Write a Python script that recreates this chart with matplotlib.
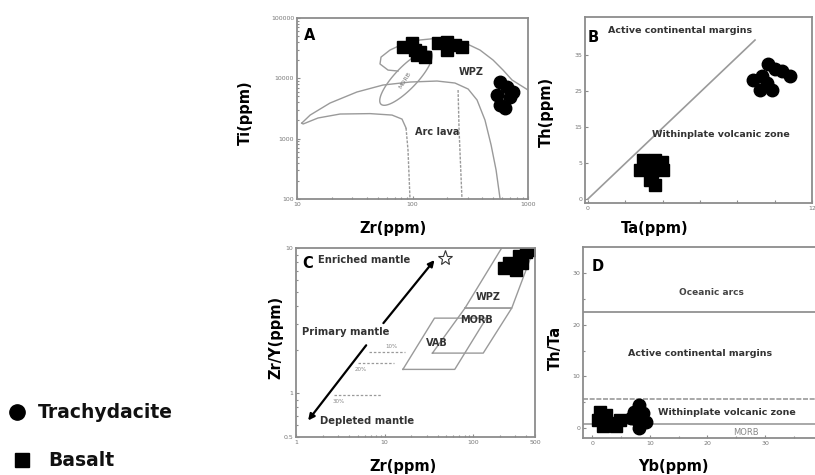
import numpy as np
import matplotlib.pyplot as plt
from matplotlib.lines import Line2D
from matplotlib.ticker import LogLocator, NullFormatter

plt.rcParams['font.family'] = 'DejaVu Sans'

# ---- A: Ti vs Zr ----
basalt_zr_a = [82.8, 99, 105, 109, 128, 116, 166, 199, 233, 268, 199]
basalt_ti_a = [33000, 38500, 29400, 24300, 22500, 27300, 38500, 40000, 35600, 33000, 29400]
trachy_zr_a = [573, 658, 540, 698, 573, 632, 741]
trachy_ti_a = [8680, 7180, 5280, 4900, 3600, 3210, 5930]

wpz_zr = [74.9, 61.4, 52.3, 53.4, 63.8, 82.8, 116, 173, 274, 384, 498, 608, 727, 1000]
wpz_ti = [13200, 13700, 17300, 22500, 29400, 37100, 43200, 46600, 40000, 29400, 20100, 13700, 9380, 6400]

arc_outer_zr = [11.0, 13.0, 19.3, 33.0, 55.5, 95.1, 163, 233, 303, 362, 424, 479, 529, 573]
arc_outer_ti = [1810, 2460, 3890, 5930, 7740, 8680, 9020, 8360, 6650, 4370, 2030, 784, 301, 100]
arc_inner_zr = [11.0, 11.3, 15.2, 23.6, 42.9, 66.5, 81.1, 87.9]
arc_inner_ti = [1810, 1750, 2200, 2560, 2600, 2460, 2110, 1500]
arc_inner_tail_zr = [87.9, 91.4, 93.3, 95.1]
arc_inner_tail_ti = [1500, 647, 249, 100]
arc_mid_zr = [248, 253, 268]
arc_mid_ti = [6400, 1390, 100]

# MORB ellipse in log space: centre, semi-major and semi-minor vectors (decades)
morb_centre = (1.944, 4.004)
morb_major = (0.217, 0.433)
morb_minor = (0.069, -0.127)

# ---- B: Th vs Ta ----
basalt_ta_b = [2.95, 3.59, 3.96, 2.79, 3.43, 4.02, 3.32, 3.59]
basalt_th_b = [5.4, 5.4, 5.1, 4.0, 3.75, 4.0, 2.6, 1.9]
trachy_ta_b = [9.66, 10.0, 10.4, 10.8, 8.82, 9.30, 9.57, 9.21, 9.84]
trachy_th_b = [18.8, 18.1, 17.8, 17.1, 16.6, 17.1, 16.1, 15.1, 15.1]
b_line_ta = [0, 8.95]
b_line_th = [0, 22.1]
b_yticks = [0, 5, 10, 15, 20]
b_ylabels = ['0', '5', '15', '25', '35']

# ---- C: Zr/Y vs Zr ----
basalt_zr_c = [221, 253, 304, 329, 396, 452, 356]
basalt_zry_c = [7.28, 7.88, 7.05, 8.81, 9.38, 9.69, 7.88]
vab_zr = [16.1, 62, 141, 36.6, 16.1]
vab_zry = [1.46, 1.46, 3.29, 3.29, 1.46]
morb_zr = [34.7, 130, 273, 81, 34.7]
morb_zry = [1.89, 1.89, 3.86, 3.86, 1.89]
wpz_c_zr = [81, 273, 490, 210, 81]
wpz_c_zry = [3.86, 3.86, 10, 10, 3.86]
melt_labels = ['10%', '20%', '30%']
melt_y = [1.91, 1.61, 0.97]
melt_x0 = [6.6, 5.0, 2.66]
melt_x1 = [17, 12.9, 9.2]
melt_lab_x = [12.0, 5.44, 3.04]
melt_lab_y = [2.11, 1.46, 0.88]

# ---- D: Th/Ta vs Yb ----
basalt_yb_d = [1.05, 2.45, 3.5, 4.9, 1.9, 4.2, 1.4]
basalt_thta_d = [1.56, 2.5, 1.0, 1.56, 0.4, 0.4, 3.1]
trachy_yb_d = [8.05, 7.2, 8.9, 7.7, 9.3, 8.05, 6.8]
trachy_thta_d = [4.5, 3.1, 2.9, 1.56, 1.2, 0.0, 1.9]
d_bounds = [22.5, 5.6, 0.8]

grey = '#8c8c8c'
field = '#9a9a9a'
txt = '#333333'


def style(ax):
    for s in ax.spines.values():
        s.set_color(grey)
        s.set_linewidth(1.3)
    ax.tick_params(which='both', direction='in', colors=grey, labelsize=4.5,
                   length=2.5, width=0.8, pad=2, labelcolor='#777777')
    ax.tick_params(which='minor', length=1.5)


def add_log_minor(axis):
    axis.set_minor_locator(LogLocator(base=10, subs=np.arange(2, 10)))
    axis.set_minor_formatter(NullFormatter())


fig = plt.figure(figsize=(8.15, 4.75), dpi=100)
ax_a = fig.add_axes([0.3644, 0.5811, 0.2835, 0.381])
ax_b = fig.add_axes([0.7178, 0.5726, 0.2785, 0.3916])
ax_c = fig.add_axes([0.3632, 0.0800, 0.2933, 0.3979])
ax_d = fig.add_axes([0.7153, 0.0779, 0.2871, 0.4021])

sq = dict(marker='s', color='black', ms=8, ls='none')
ci = dict(marker='o', color='black', ms=9, ls='none')

# A
ax = ax_a
ax.set_xscale('log')
ax.set_yscale('log')
ax.plot(wpz_zr, wpz_ti, color=field, lw=1.0)
ax.plot(arc_outer_zr, arc_outer_ti, color=field, lw=1.0)
ax.plot(arc_inner_zr, arc_inner_ti, color=field, lw=1.0)
ax.plot(arc_inner_tail_zr, arc_inner_tail_ti, color=field, lw=1.0, ls=(0, (2, 1)))
ax.plot(arc_mid_zr, arc_mid_ti, color=field, lw=1.0, ls=(0, (2, 1)))
t = np.linspace(0, 2 * np.pi, 80)
ell_x = morb_centre[0] + np.cos(t) * morb_major[0] + np.sin(t) * morb_minor[0]
ell_y = morb_centre[1] + np.cos(t) * morb_major[1] + np.sin(t) * morb_minor[1]
ax.plot(10 ** ell_x, 10 ** ell_y, color=field, lw=1.0)
ax.plot(basalt_zr_a, basalt_ti_a, **sq)
ax.plot(trachy_zr_a, trachy_ti_a, **ci)
ax.set_xlim(10, 1000)
ax.set_ylim(100, 100000)
ax.set_xticks([10, 100, 1000])
ax.set_xticklabels(['10', '100', '1000'])
ax.set_yticks([100, 1000, 10000, 100000])
ax.set_yticklabels(['100', '1000', '10000', '100000'])
add_log_minor(ax.xaxis)
add_log_minor(ax.yaxis)
style(ax)
ax.text(0.03, 0.905, 'A', transform=ax.transAxes, fontsize=10.5, fontweight='bold', va='center')
ax.text(0.753, 0.70, 'WPZ', transform=ax.transAxes, fontsize=7, fontweight='bold', color=txt, ha='center', va='center')
ax.text(0.606, 0.37, 'Arc lava', transform=ax.transAxes, fontsize=7, fontweight='bold', color=txt, ha='center', va='center')
ax.text(0.468, 0.657, 'MORB', transform=ax.transAxes, fontsize=4.5, color='#777777', ha='center', va='center', rotation=58)

# B
ax = ax_b
ax.plot(b_line_ta, b_line_th, color=field, lw=1.2)
ax.plot(basalt_ta_b, basalt_th_b, **sq)
ax.plot(trachy_ta_b, trachy_th_b, **ci)
ax.set_xlim(-0.15, 12)
ax.set_ylim(-0.55, 25.3)
ax.set_xticks([0, 2, 4, 6, 8, 10, 12])
ax.set_xticklabels(['0', '', '', '', '', '', '12'])
ax.set_yticks(b_yticks)
ax.set_yticklabels(b_ylabels)
style(ax)
ax.text(0.013, 0.89, 'B', transform=ax.transAxes, fontsize=10.5, fontweight='bold', va='center')
ax.text(0.101, 0.93, 'Active continental margins', transform=ax.transAxes, fontsize=6.8,
        fontweight='bold', color=txt, va='center')
ax.text(0.295, 0.366, 'Withinplate volcanic zone', transform=ax.transAxes, fontsize=6.8,
        fontweight='bold', color=txt, va='center', clip_on=False)

# C
ax = ax_c
ax.set_xscale('log')
ax.set_yscale('log')
ax.plot(vab_zr, vab_zry, color=field, lw=1.0)
ax.plot(morb_zr, morb_zry, color=field, lw=1.0)
ax.plot(wpz_c_zr, wpz_c_zry, color=field, lw=1.0)
for lab, y, x0, x1, lx, ly in zip(melt_labels, melt_y, melt_x0, melt_x1, melt_lab_x, melt_lab_y):
    ax.plot([x0, x1], [y, y], color='#9a9a9a', lw=0.9, ls=(0, (2, 1.5)))
    ax.text(lx, ly, lab, fontsize=4, color='#888888', ha='center', va='center')
ax.annotate('', xy=(36.6, 8.26), xytext=(9.7, 3.04),
            arrowprops=dict(arrowstyle='-|>', color='black', lw=1.6, mutation_scale=9, shrinkA=0, shrinkB=0))
ax.annotate('', xy=(1.37, 0.65), xytext=(6.2, 2.14),
            arrowprops=dict(arrowstyle='-|>', color='black', lw=1.6, mutation_scale=9, shrinkA=0, shrinkB=0))
ax.plot(47.6, 8.5, marker='*', ms=11, mfc='white', mec='#333333', mew=0.8, ls='none')
ax.plot(basalt_zr_c, basalt_zry_c, **sq)
ax.set_xlim(1, 500)
ax.set_ylim(0.5, 10)
ax.set_xticks([1, 10, 100, 500])
ax.set_xticklabels(['1', '10', '100', '500'])
ax.set_yticks([0.5, 1, 10])
ax.set_yticklabels(['0.5', '1', '10'])
add_log_minor(ax.xaxis)
add_log_minor(ax.yaxis)
style(ax)
ax.text(0.025, 0.92, 'C', transform=ax.transAxes, fontsize=10.5, fontweight='bold', va='center')
ax.text(0.092, 0.937, 'Enriched mantle', transform=ax.transAxes, fontsize=7.2, fontweight='bold', color=txt, va='center')
ax.text(0.025, 0.556, 'Primary mantle', transform=ax.transAxes, fontsize=7.2, fontweight='bold', color=txt, va='center')
ax.text(0.10, 0.085, 'Depleted mantle', transform=ax.transAxes, fontsize=7.2, fontweight='bold', color=txt, va='center')
ax.text(0.803, 0.741, 'WPZ', transform=ax.transAxes, fontsize=7, fontweight='bold', color=txt, ha='center', va='center')
ax.text(0.757, 0.619, 'MORB', transform=ax.transAxes, fontsize=7, fontweight='bold', color=txt, ha='center', va='center')
ax.text(0.59, 0.497, 'VAB', transform=ax.transAxes, fontsize=7, fontweight='bold', color=txt, ha='center', va='center')

# D
ax = ax_d
ax.axhline(d_bounds[0], color=field, lw=1.4)
ax.axhline(d_bounds[1], color=field, lw=1.2, ls=(0, (3, 1)))
ax.axhline(d_bounds[2], color=field, lw=1.2)
ax.plot(basalt_yb_d, basalt_thta_d, **sq)
ax.plot(trachy_yb_d, trachy_thta_d, **ci)
ax.set_xlim(-1.6, 39)
ax.set_ylim(-1.9, 35)
ax.set_xticks([0, 10, 20, 30])
ax.set_yticks([0, 10, 20, 30])
ax.set_yticks([5, 15, 25], minor=True)
ax.set_xticks([5, 15, 25, 35], minor=True)
style(ax)
ax.spines['right'].set_visible(False)
ax.text(0.039, 0.90, 'D', transform=ax.transAxes, fontsize=10.5, fontweight='bold', va='center')
ax.text(0.547, 0.764, 'Oceanic arcs', transform=ax.transAxes, fontsize=6.5, fontweight='bold', color='#444444', ha='center', va='center')
ax.text(0.194, 0.44, 'Active continental margins', transform=ax.transAxes, fontsize=6.8, fontweight='bold', color=txt, va='center')
ax.text(0.319, 0.136, 'Withinplate volcanic zone', transform=ax.transAxes, fontsize=6.8, fontweight='bold', color=txt, va='center', clip_on=False)
ax.text(0.698, 0.031, 'MORB', transform=ax.transAxes, fontsize=6, color='#888888', ha='center', va='center')

# axis titles
lab = dict(fontsize=10.5, fontweight='bold', color='black', ha='center', va='center')
fig.text(393 / 815, 1 - 228 / 475, 'Zr(ppm)', **lab)
fig.text(245 / 815, 1 - 113 / 475, 'Ti(ppm)', rotation=90, **lab)
fig.text(655 / 815, 1 - 228 / 475, 'Ta(ppm)', **lab)
fig.text(546 / 815, 1 - 112 / 475, 'Th(ppm)', rotation=90, **lab)
fig.text(403 / 815, 1 - 466 / 475, 'Zr(ppm)', **lab)
fig.text(276 / 815, 1 - 337 / 475, 'Zr/Y(ppm)', rotation=90, **lab)
fig.text(673 / 815, 1 - 466 / 475, 'Yb(ppm)', **lab)
fig.text(555 / 815, 1 - 348 / 475, 'Th/Ta', rotation=90, **lab)

# rock-type key
fig.add_artist(Line2D([17 / 815], [1 - 412 / 475], marker='o', color='black', ms=11, transform=fig.transFigure))
fig.add_artist(Line2D([22 / 815], [1 - 460 / 475], marker='s', color='black', ms=10, transform=fig.transFigure))
key = dict(fontsize=13.5, fontweight='bold', color='#111111', va='center')
fig.text(38 / 815, 1 - 412 / 475, 'Trachydacite', **key)
fig.text(48 / 815, 1 - 460 / 475, 'Basalt', **key)

fig.savefig('out.png', dpi=100)
